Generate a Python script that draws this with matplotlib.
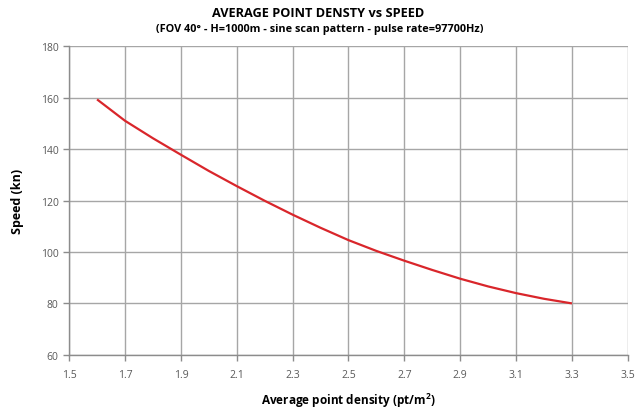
import matplotlib
matplotlib.use("Agg")
import matplotlib.pyplot as plt

density = [1.6, 1.7, 1.8, 1.9, 2.0, 2.1, 2.2, 2.3, 2.4, 2.5, 2.6, 2.7, 2.8, 2.9, 3.0, 3.1, 3.2, 3.3]
speed = [159.3, 151.0, 144.2, 137.8, 131.5, 125.6, 119.9, 114.5, 109.4, 104.6, 100.4, 96.6, 93.0, 89.6, 86.6, 84.0, 81.8, 80.0]

xticks = [1.5, 1.7, 1.9, 2.1, 2.3, 2.5, 2.7, 2.9, 3.1, 3.3, 3.5]
yticks = [60, 80, 100, 120, 140, 160, 180]

plt.rcParams['font.family'] = ['Open Sans', 'DejaVu Sans']

fig = plt.figure(figsize=(6.4, 4.1), dpi=100)
ax = fig.add_axes([0.108, 0.132, 0.873, 0.753])

ax.plot(density, speed, color='#d9262b', lw=1.6, solid_capstyle='butt')

ax.set_xlim(1.5, 3.5)
ax.set_ylim(60, 180)
ax.set_xticks(xticks)
ax.set_yticks(yticks)
ax.set_xticklabels([f"{v:.1f}" for v in xticks])
ax.grid(True, color='#a6a6a6', lw=1.0)
ax.set_axisbelow(True)
for s in ['top', 'right']:
    ax.spines[s].set_visible(False)
for s in ['left', 'bottom']:
    ax.spines[s].set_color('#8c8c8c')
    ax.spines[s].set_linewidth(1.0)
ax.tick_params(axis='both', colors='#8c8c8c', length=4, width=1.0, labelsize=7.5, labelcolor='#595959')
ax.tick_params(axis='x', pad=6)

ax.set_xlabel('Average point density (pt/m$^\\mathregular{2}$)', fontsize=8.5, fontweight='bold', labelpad=8)
ax.set_ylabel('Speed (kn)', fontsize=9, fontweight='bold', labelpad=12)

fig.text(0.497, 0.968, 'AVERAGE POINT DENSTY vs SPEED', ha='center', va='center', fontsize=9.2, fontweight='bold')
fig.text(0.500, 0.928, '(FOV 40° - H=1000m - sine scan pattern - pulse rate=97700Hz)', ha='center', va='center', fontsize=7.8, fontweight='bold')

fig.savefig('out.png', dpi=100, facecolor='white')
